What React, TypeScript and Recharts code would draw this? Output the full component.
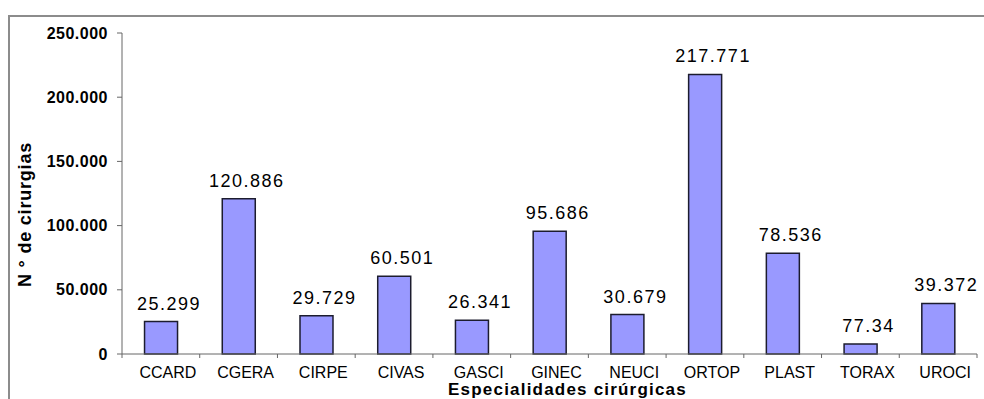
import React from 'react'
import { BarChart, Bar, XAxis, YAxis, LabelList, Label } from 'recharts'

const categories = ['CCARD', 'CGERA', 'CIRPE', 'CIVAS', 'GASCI', 'GINEC', 'NEUCI', 'ORTOP', 'PLAST', 'TORAX', 'UROCI']
const cirurgias = [25299, 120886, 29729, 60501, 26341, 95686, 30679, 217771, 78536, 7734, 39372]
// labels as printed on the original (TORAX shows "77.34")
const valueLabels = ['25.299', '120.886', '29.729', '60.501', '26.341', '95.686', '30.679', '217.771', '78.536', '77.34', '39.372']
const yTicks = [0, 50000, 100000, 150000, 200000, 250000]

const FONT = '"Liberation Sans", Arial, sans-serif'
const AXIS = '#666'

const chartData = categories.map((name, i) => ({ name, value: cirurgias[i], label: valueLabels[i] }))

const formatThousands = (v: number) => String(v).replace(/\B(?=(\d{3})+(?!\d))/g, '.')

const CategoryTick = (props: any) => {
  const { x, y, payload, index } = props
  const half = payload && payload.offset ? payload.offset : 38.86
  return (
    <g>
      <line x1={x - half} x2={x - half} y1={y} y2={y + 4} stroke={AXIS} strokeWidth={1} />
      {index === categories.length - 1 && (
        <line x1={x + half} x2={x + half} y1={y} y2={y + 4} stroke={AXIS} strokeWidth={1} />
      )}
      <text x={x + 7} y={y + 24} textAnchor="middle" fontFamily={FONT} fontSize={16} fill="#000">
        {payload.value}
      </text>
    </g>
  )
}

export default function App() {
  return (
    // fixed so the page never grows scrollbars; the frame runs off the right/bottom like the original
    <div style={{ position: 'fixed', left: 8, top: 8, width: 976, height: 391, overflow: 'hidden', background: '#fff' }}>
      <div
        style={{
          position: 'absolute',
          left: 0,
          top: 7,
          right: 0,
          bottom: 0,
          borderTop: '2px solid #8c8c8c',
          borderLeft: '2px solid #8c8c8c',
        }}
      />
      <BarChart
        width={976}
        height={391}
        data={chartData}
        margin={{ top: 25, right: 7, left: 0, bottom: 0 }}
        barCategoryGap="29%"
      >
        <XAxis
          dataKey="name"
          height={45}
          interval={0}
          tickLine={false}
          tickSize={0}
          tickMargin={0}
          axisLine={{ stroke: AXIS, strokeWidth: 1 }}
          tick={<CategoryTick />}
        >
          <Label
            content={({ viewBox }: any) => (
              <text
                x={viewBox.x + viewBox.width / 2 + 18}
                y={viewBox.y + 41}
                textAnchor="middle"
                fontFamily={FONT}
                fontWeight="bold"
                fontSize={17}
                letterSpacing={1.2}
                fill="#000"
              >
                Especialidades cirúrgicas
              </text>
            )}
          />
        </XAxis>
        <YAxis
          width={114}
          domain={[0, 250000]}
          ticks={yTicks}
          interval={0}
          tickSize={5}
          tickMargin={9}
          tickFormatter={formatThousands}
          axisLine={{ stroke: AXIS, strokeWidth: 1 }}
          tickLine={{ stroke: AXIS, strokeWidth: 1 }}
          tick={{ fontFamily: FONT, fontWeight: 'bold', fontSize: 16, fill: '#000', letterSpacing: 0.5 }}
        >
          <Label
            content={({ viewBox }: any) => {
              const cx = viewBox.x + 17
              const cy = viewBox.y + viewBox.height / 2 + 21
              return (
                <text
                  x={cx}
                  y={cy}
                  transform={`rotate(-90, ${cx}, ${cy})`}
                  textAnchor="middle"
                  dominantBaseline="central"
                  fontFamily={FONT}
                  fontWeight="bold"
                  fontSize={18}
                  letterSpacing={0.8}
                  fill="#000"
                >
                  N ° de cirurgias
                </text>
              )
            }}
          />
        </YAxis>
        <Bar dataKey="value" fill="#9999ff" stroke="#1c1c2e" strokeWidth={1.5} isAnimationActive={false}>
          <LabelList
            dataKey="label"
            position="top"
            offset={12}
            dx={8}
            fontFamily={FONT}
            fontSize={18}
            letterSpacing={1.5}
            fill="#000"
          />
        </Bar>
      </BarChart>
    </div>
  )
}
